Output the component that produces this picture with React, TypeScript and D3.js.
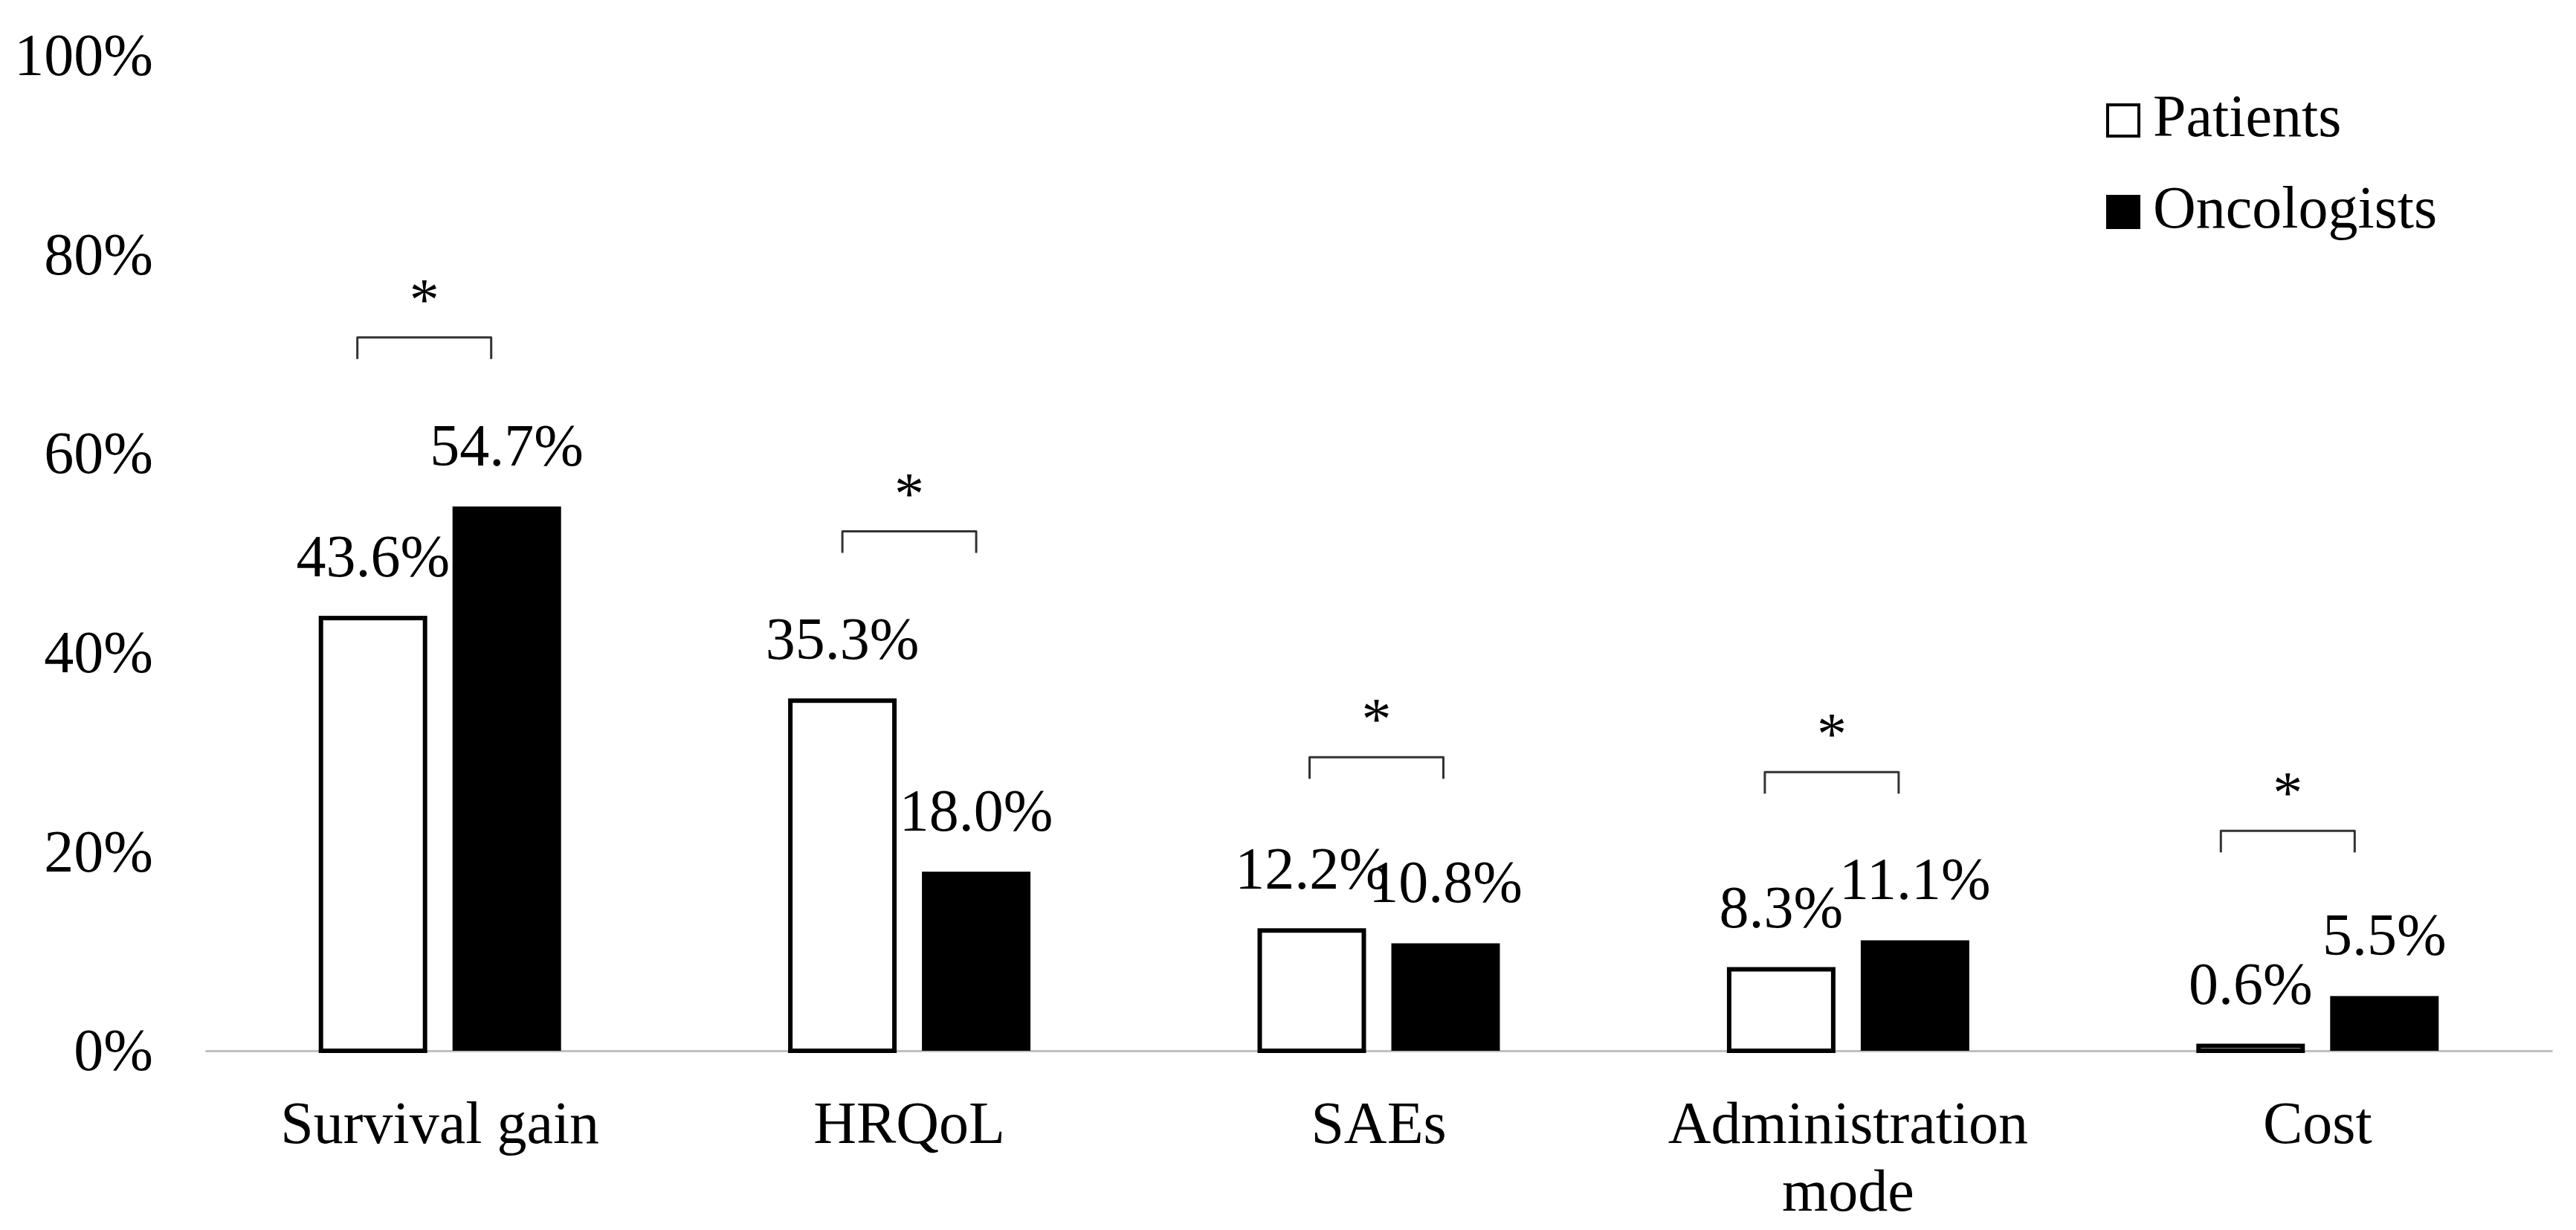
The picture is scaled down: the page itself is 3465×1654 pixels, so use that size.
import * as d3 from "d3";
import React from "react";

const categories = ["Survival gain", "HRQoL", "SAEs", "Administration mode", "Cost"];
const seriesNames = ["Patients", "Oncologists"];
const patients = [43.6, 35.3, 12.2, 8.3, 0.6];
const oncologists = [54.7, 18.0, 10.8, 11.1, 5.5];
const yTicks = [0, 20, 40, 60, 80, 100];
// height (in %) of the significance bracket over each pair
const bracketLevels = [71.7, 52.2, 29.5, 28.0, 22.1];
const significance = ["*", "*", "*", "*", "*"];

// brackets in the original were placed by hand, a bit left of the pair
const bracketNudge = [-21, 0, -3, -22, -40];

const FONT = "'Liberation Serif', 'Times New Roman', serif";

class GroupedBarChart extends React.PureComponent<any, any> {
    containerRef: any;

    constructor(props: any) {
        super(props);
        this.containerRef = React.createRef();
    }

    componentDidMount() {
        this.draw();
    }

    draw() {
        const width = 3465;
        const height = 1654;
        const plotLeft = 276;
        const plotRight = 3433;
        const plotBottom = 1413;
        const plotTop = 75;
        const groupWidth = 326;

        d3.select(this.containerRef.current).selectAll("*").remove();
        const svg = d3.select(this.containerRef.current)
            .append("svg")
            .attr("width", width)
            .attr("height", height)
            .style("position", "absolute")
            .style("left", 0)
            .style("top", 0)
            .style("background", "#fff")
            .style("font-family", FONT);

        const x0 = d3.scaleBand<string>().domain(categories).range([plotLeft, plotRight]);
        const x1 = d3.scaleBand<string>().domain(seriesNames).range([0, groupWidth]).paddingInner(0.189);
        const y = d3.scaleLinear().domain([0, 100]).range([plotBottom, plotTop]);

        const groupX = (c: string) => (x0(c) as number) + (x0.bandwidth() - groupWidth) / 2;
        const barCenter = (c: string, s: string) => groupX(c) + (x1(s) as number) + x1.bandwidth() / 2;

        /*
        y axis: labels only
        */
        const yAxis = d3.axisLeft(y)
            .tickValues(yTicks)
            .tickSizeInner(0)
            .tickSizeOuter(0)
            .tickPadding(0)
            .tickFormat((d: any) => `${d}%`);
        const yg = svg.append("g")
            .attr("class", "y-axis")
            .attr("transform", "translate(206,0)")
            .call(yAxis);
        yg.select(".domain").remove();
        yg.attr("font-family", FONT).attr("font-size", 80);
        yg.selectAll("text").attr("fill", "#000");

        /*
        x axis: grey base line and category names
        */
        const xAxis = d3.axisBottom(x0).tickSizeInner(0).tickSizeOuter(0).tickPadding(67);
        const xg = svg.append("g")
            .attr("class", "x-axis")
            .attr("transform", `translate(0,${plotBottom})`)
            .call(xAxis);
        xg.attr("font-family", FONT).attr("font-size", 80);
        xg.select(".domain").attr("stroke", "#bfbfbf").attr("stroke-width", 3);
        xg.selectAll("text")
            .attr("fill", "#000")
            .each(function (this: any, d: any) {
                const label = String(d);
                if (label.length > 15) {
                    const words = label.split(" ");
                    const t = d3.select(this);
                    t.text(null);
                    words.forEach((w, i) => {
                        t.append("tspan")
                            .attr("x", 0)
                            .attr("dy", i === 0 ? "0.71em" : "1.14em")
                            .text(w);
                    });
                    t.attr("dy", null);
                }
            });

        /*
        bars
        */
        const rows = categories.map((c, i) => ({ category: c, values: [patients[i], oncologists[i]] }));
        const groups = svg.selectAll(".bar-group").data(rows).enter()
            .append("g")
            .attr("class", "bar-group")
            .attr("transform", (d: any) => `translate(${groupX(d.category)},0)`);

        const bw = x1.bandwidth();
        groups.selectAll("rect")
            .data((d: any) => d.values.map((v: number, i: number) => ({ series: seriesNames[i], value: v })))
            .enter()
            .append("rect")
            .attr("x", (d: any) => (x1(d.series) as number) + (d.series === "Patients" ? 3 : 0))
            .attr("width", (d: any) => d.series === "Patients" ? bw - 6 : bw)
            .attr("y", (d: any) => y(d.value) + (d.series === "Patients" ? 1.5 : 0))
            .attr("height", (d: any) => Math.max(0, plotBottom - y(d.value) - (d.series === "Patients" ? 1.5 : 0)))
            .attr("fill", (d: any) => d.series === "Patients" ? "#fff" : "#000")
            .attr("stroke", (d: any) => d.series === "Patients" ? "#000" : "none")
            .attr("stroke-width", 6);

        // value labels
        groups.selectAll(".value-label")
            .data((d: any) => d.values.map((v: number, i: number) => ({ series: seriesNames[i], value: v })))
            .enter()
            .append("text")
            .attr("class", "value-label")
            .attr("x", (d: any) => (x1(d.series) as number) + bw / 2)
            .attr("y", (d: any) => y(d.value) - 55)
            .attr("text-anchor", "middle")
            .attr("font-size", 80)
            .text((d: any) => `${d.value.toFixed(1)}%`);

        /*
        significance brackets
        */
        categories.forEach((c, i) => {
            const xa = barCenter(c, "Patients") + bracketNudge[i];
            const xb = barCenter(c, "Oncologists") + bracketNudge[i];
            const top = y(bracketLevels[i]);
            svg.append("path")
                .attr("d", `M${xa},${top + 29}V${top}H${xb}V${top + 29}`)
                .attr("fill", "none")
                .attr("stroke", "#333")
                .attr("stroke-width", 3)
                .attr("stroke-linejoin", "round");
            svg.append("text")
                .attr("x", (xa + xb) / 2)
                .attr("y", top - 60 + 36)
                .attr("text-anchor", "middle")
                .attr("font-size", 80)
                .text(significance[i]);
        });

        /*
        legend
        */
        const legend = svg.append("g").attr("transform", "translate(2833,0)");
        seriesNames.forEach((s, i) => {
            const baseline = 183 + i * 123;
            legend.append("rect")
                .attr("x", s === "Patients" ? 2 : 0)
                .attr("y", baseline - 44 + (s === "Patients" ? 2 : 0))
                .attr("width", s === "Patients" ? 42 : 46)
                .attr("height", s === "Patients" ? 42 : 46)
                .attr("fill", s === "Patients" ? "#fff" : "#000")
                .attr("stroke", s === "Patients" ? "#000" : "none")
                .attr("stroke-width", 4);
            legend.append("text")
                .attr("x", 63)
                .attr("y", baseline)
                .attr("font-size", 80)
                .text(s);
        });
    }

    render() {
        return (<div ref={this.containerRef} className="chart-container"></div>);
    }
}

export default function App() {
    return <GroupedBarChart />;
}
